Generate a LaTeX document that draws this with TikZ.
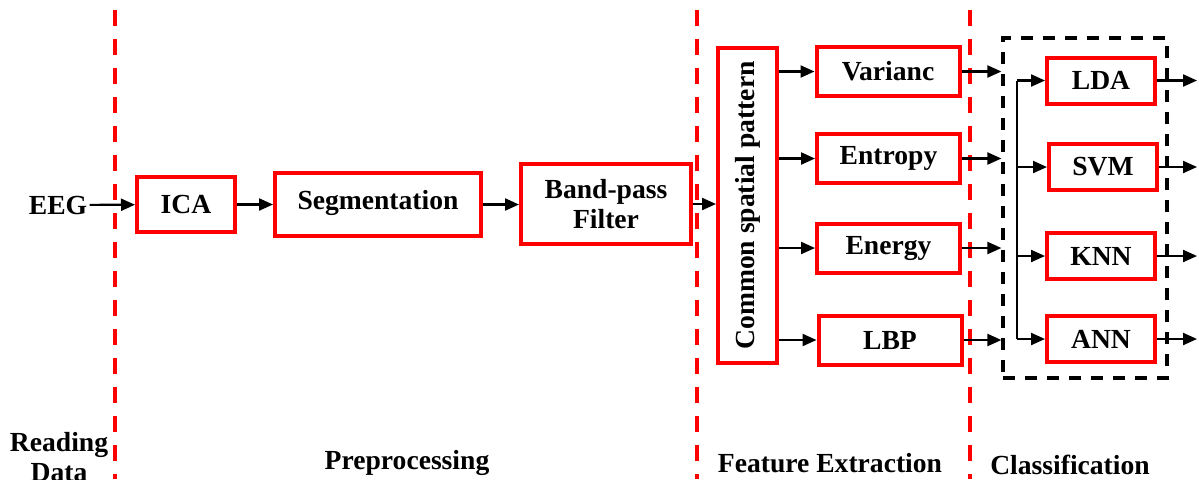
\documentclass[tikz,border=0pt]{standalone}
\usepackage{fontspec}
\setmainfont{Liberation Serif}
\usetikzlibrary{arrows.meta}

\begin{document}
\begin{tikzpicture}[
    x=0.5pt, y=-0.5pt,
    font=\fontsize{13.8}{15}\selectfont\bfseries,
    box/.style={rectangle, draw=red, line width=2pt, inner sep=0pt, text centered},
    feat/.style={box, minimum width=71.5pt, minimum height=24.5pt},
    clf/.style={box, minimum width=54pt, minimum height=23pt},
    arr/.style={-{Triangle[length=7pt,width=6pt]}, line width=1.1pt},
    sep/.style={red, line width=2pt, dash pattern=on 8pt off 6.5pt},
    stage/.style={align=center, inner sep=0pt}
]
\useasboundingbox (0,0) rectangle (1199,479);

\draw[sep] (115,10) -- (115,479);
\draw[sep] (697,10) -- (697,479);
\draw[sep] (970,10) -- (970,479);

\node[inner sep=1pt] (eeg) at (58,205) {EEG};
\node[box, minimum width=49pt, minimum height=27.5pt] (ica) at (186,204.5) {ICA};
\node[box, minimum width=103pt, minimum height=31.5pt, text depth=5pt] (seg) at (378,204.5) {Segmentation};
\node[box, align=center, minimum width=85pt, minimum height=40pt] (bpf) at (606,204) {Band-pass\\Filter};
\node[box, rotate=90, minimum width=157.5pt, minimum height=29.5pt] (csp) at (747.5,205.5) {Common spatial pattern};

\node[feat] (var) at (888,71.5) {Varianc};
\node[feat] (ent) at (888.5,158.5) {Entropy};
\node[feat] (ene) at (888.5,248) {Energy};
\node[feat] (lbp) at (890,340) {LBP};

\node[draw, line width=1.6pt, dash pattern=on 6pt off 5pt, minimum width=82pt, minimum height=170pt] (clsbox) at (1085,208) {};

\node[clf] (lda) at (1101,80.5) {LDA};
\node[clf] (svm) at (1103,167) {SVM};
\node[clf] (knn) at (1101,256) {KNN};
\node[clf] (ann) at (1101,339) {ANN};

\coordinate (bus) at (1017,0);
\coordinate (out) at (1197,0);

\draw[arr] (eeg) -- (ica);
\draw[arr] (ica) -- (seg);
\draw[arr] (seg.east) -- (seg.east -| bpf.west);
\draw[arr] (bpf) -- (csp.north |- bpf.east);

\foreach \f in {var,ent,ene,lbp}{
    \draw[arr] (csp.south |- \f.west) -- (\f.west);
    \draw[arr] (\f.east) -- (\f.east -| clsbox.west);
}

\draw[line width=1.1pt] (lda.west -| bus) -- (ann.west -| bus);
\foreach \c in {lda,svm,knn,ann}{
    \draw[arr] (\c.west -| bus) -- (\c.west);
    \draw[arr] (\c.east) -- (\c.east -| out);
}

\node[stage] (read) at (59,457) {Reading\\Data};
\node[stage] (prep) at (407,463) {Preprocessing};
\node[stage] (fext) at (830,463) {Feature Extraction};
\node[stage] (clss) at (1070,465) {Classification};
\end{tikzpicture}
\end{document}
